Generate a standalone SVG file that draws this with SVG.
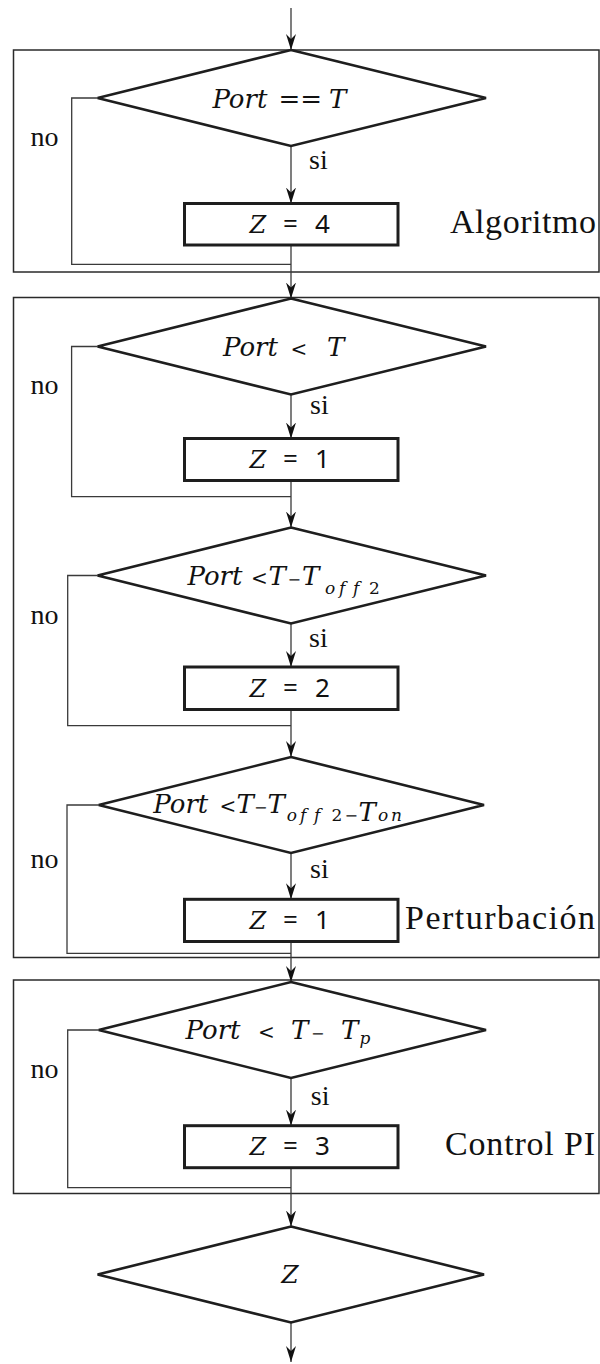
<svg xmlns="http://www.w3.org/2000/svg" width="600" height="1364" viewBox="0 0 600 1364">
<style>
.frame{fill:none;stroke:#2a2a2a;stroke-width:1.5}
.dec{fill:#fff;stroke:#1e1e1e;stroke-width:2.6;stroke-linejoin:miter}
.proc{fill:#fff;stroke:#1e1e1e;stroke-width:3}
.con{fill:none;stroke:#3a3a3a;stroke-width:1.3}
.lbl{font-size:28px;fill:#111}
.big{font-size:34px;fill:#111}
.m{font-style:italic;font-size:26px;fill:#111}
.op{font-style:normal;font-size:20px}
.mi{font-style:normal;font-size:16px}
.eq{font-style:normal;font-size:26px}
.sub{font-size:17px}
.zi{font-style:italic;font-size:24px;fill:#111}
.zs{font-style:normal;font-size:26px;fill:#111}
</style>
<defs>
<marker id="ah" markerUnits="userSpaceOnUse" viewBox="-16 -5.5 16 11" refX="0" refY="0" markerWidth="16" markerHeight="11" orient="auto">
<path d="M0,0 L-16,-5 L-11,0 L-16,5 Z" fill="#111"/>
</marker>
</defs>

<g id="frame-algoritmo">
<rect class="frame" x="13.5" y="50" width="585.5" height="222"/>
<text class="big" font-family="'Liberation Serif', serif" x="450" y="233.3" textLength="146" lengthAdjust="spacing">Algoritmo</text>
</g>
<g id="frame-perturbacion">
<rect class="frame" x="13.5" y="297.5" width="585.5" height="660"/>
<text class="big" font-family="'Liberation Serif', serif" x="405" y="929.3" textLength="190" lengthAdjust="spacing">Perturbación</text>
</g>
<g id="frame-control">
<rect class="frame" x="13.5" y="980" width="585.5" height="213.5"/>
<text class="big" font-family="'Liberation Serif', serif" x="445" y="1155" textLength="150" lengthAdjust="spacing">Control PI</text>
</g>

<g id="connectors">
<line class="con" x1="291" y1="8" x2="291" y2="50" marker-end="url(#ah)"/>
<line class="con" x1="291" y1="146" x2="291" y2="203.5" marker-end="url(#ah)"/>
<line class="con" x1="291" y1="245" x2="291" y2="298.5" marker-end="url(#ah)"/>
<polyline class="con" points="97.6,98 71.7,98 71.7,264.3 291,264.3"/>
<line class="con" x1="291" y1="394.5" x2="291" y2="438.5" marker-end="url(#ah)"/>
<line class="con" x1="291" y1="480.5" x2="291" y2="527.5" marker-end="url(#ah)"/>
<polyline class="con" points="97.6,346.5 71.6,346.5 71.6,496.7 291,496.7"/>
<line class="con" x1="291" y1="623.5" x2="291" y2="667" marker-end="url(#ah)"/>
<line class="con" x1="291" y1="709.5" x2="291" y2="757" marker-end="url(#ah)"/>
<polyline class="con" points="97.6,575.5 67.7,575.5 67.7,725.7 291,725.7"/>
<line class="con" x1="291" y1="853" x2="291" y2="899.3" marker-end="url(#ah)"/>
<line class="con" x1="291" y1="941.5" x2="291" y2="982" marker-end="url(#ah)"/>
<polyline class="con" points="98.7,805 67,805 67,953.3 291,953.3"/>
<line class="con" x1="291" y1="1078" x2="291" y2="1125.7" marker-end="url(#ah)"/>
<line class="con" x1="291" y1="1167.7" x2="291" y2="1226.5" marker-end="url(#ah)"/>
<polyline class="con" points="98.7,1030 67.7,1030 67.7,1187.7 291,1187.7"/>
<line class="con" x1="291" y1="1322.5" x2="291" y2="1362" marker-end="url(#ah)"/>
<g font-family="'Liberation Serif', serif">
<text class="lbl" x="30.6" y="146">no</text>
<text class="lbl" x="309" y="169.3">si</text>
<text class="lbl" x="30.6" y="394.3">no</text>
<text class="lbl" x="310" y="414.3">si</text>
<text class="lbl" x="30.6" y="624">no</text>
<text class="lbl" x="309" y="646.7">si</text>
<text class="lbl" x="30.6" y="868.3">no</text>
<text class="lbl" x="310" y="878.3">si</text>
<text class="lbl" x="30.6" y="1078.3">no</text>
<text class="lbl" x="310.8" y="1105">si</text>
</g>
</g>

<g id="d1">
<polygon class="dec" points="291,50 486,98 291,146 97.6,98"/>
<text class="m" font-family="'DejaVu Serif', serif" y="107.7"><tspan x="212.4">Port</tspan><tspan class="eq" x="278.5">==</tspan><tspan x="329">T</tspan></text>
</g>
<g id="b1">
<rect class="proc" x="184.5" y="203.5" width="213.5" height="41.5"/>
<text y="232.7"><tspan class="zi" font-family="'DejaVu Serif', serif" x="249.5">Z</tspan><tspan class="zs" font-family="'Noto Sans', sans-serif" x="283">=</tspan><tspan class="zs" font-family="'Noto Sans', sans-serif" x="315">4</tspan></text>
</g>

<g id="d2">
<polygon class="dec" points="291,298.5 486,346.5 291,394.5 97.6,346.5"/>
<text class="m" font-family="'DejaVu Serif', serif" y="355.7"><tspan x="223">Port</tspan><tspan class="op" x="290.5">&lt;</tspan><tspan x="327">T</tspan></text>
</g>
<g id="b2">
<rect class="proc" x="184.5" y="438.5" width="213.5" height="42"/>
<text y="468.3"><tspan class="zi" font-family="'DejaVu Serif', serif" x="249.5">Z</tspan><tspan class="zs" font-family="'Noto Sans', sans-serif" x="283">=</tspan><tspan class="zs" font-family="'Noto Sans', sans-serif" x="315">1</tspan></text>
</g>

<g id="d3">
<polygon class="dec" points="291,527.5 486,575.5 291,623.5 97.6,575.5"/>
<text class="m" font-family="'DejaVu Serif', serif" y="585"><tspan x="187.5">Port</tspan><tspan class="op" x="251">&lt;</tspan><tspan x="268.5">T</tspan><tspan class="mi" x="287.5">−</tspan><tspan x="302">T</tspan><tspan class="sub" x="325 339 353" y="594">off</tspan><tspan class="sub" style="font-style:normal" x="369" y="594">2</tspan></text>
</g>
<g id="b3">
<rect class="proc" x="184.5" y="667" width="213.5" height="42.5"/>
<text y="696.7"><tspan class="zi" font-family="'DejaVu Serif', serif" x="249.5">Z</tspan><tspan class="zs" font-family="'Noto Sans', sans-serif" x="283">=</tspan><tspan class="zs" font-family="'Noto Sans', sans-serif" x="315">2</tspan></text>
</g>

<g id="d4">
<polygon class="dec" points="291,757 484,805 291,853 98.7,805"/>
<text class="m" font-family="'DejaVu Serif', serif" y="813.3"><tspan x="153.3">Port</tspan><tspan class="op" x="219.5">&lt;</tspan><tspan x="236.5">T</tspan><tspan class="mi" x="254">−</tspan><tspan x="267.5">T</tspan><tspan class="sub" x="286.7 300 314" y="821">off</tspan><tspan class="sub" style="font-style:normal" x="331.5" y="821">2</tspan><tspan class="mi" x="344.5">−</tspan><tspan x="358.5">T</tspan><tspan class="sub" x="378 391" y="821">on</tspan></text>
</g>
<g id="b4">
<rect class="proc" x="184.5" y="899.3" width="213.5" height="42.2"/>
<text y="929.3"><tspan class="zi" font-family="'DejaVu Serif', serif" x="249.5">Z</tspan><tspan class="zs" font-family="'Noto Sans', sans-serif" x="283">=</tspan><tspan class="zs" font-family="'Noto Sans', sans-serif" x="315">1</tspan></text>
</g>

<g id="d5">
<polygon class="dec" points="291,982 486,1030 291,1078 98.7,1030"/>
<text class="m" font-family="'DejaVu Serif', serif" y="1039.3"><tspan x="185.6">Port</tspan><tspan class="op" x="258">&lt;</tspan><tspan x="291">T</tspan><tspan class="mi" x="311">−</tspan><tspan x="341">T</tspan><tspan class="sub" x="359.5" y="1044">p</tspan></text>
</g>
<g id="b5">
<rect class="proc" x="184.5" y="1125.7" width="213.5" height="42"/>
<text y="1155"><tspan class="zi" font-family="'DejaVu Serif', serif" x="249.5">Z</tspan><tspan class="zs" font-family="'Noto Sans', sans-serif" x="283">=</tspan><tspan class="zs" font-family="'Noto Sans', sans-serif" x="315">3</tspan></text>
</g>

<g id="d6">
<polygon class="dec" points="291,1226.5 484,1274.5 291,1322.5 97.6,1274.5"/>
<text class="m" font-family="'DejaVu Serif', serif" x="290" y="1283.3" text-anchor="middle" style="font-size:25px">Z</text>
</g>
</svg>
